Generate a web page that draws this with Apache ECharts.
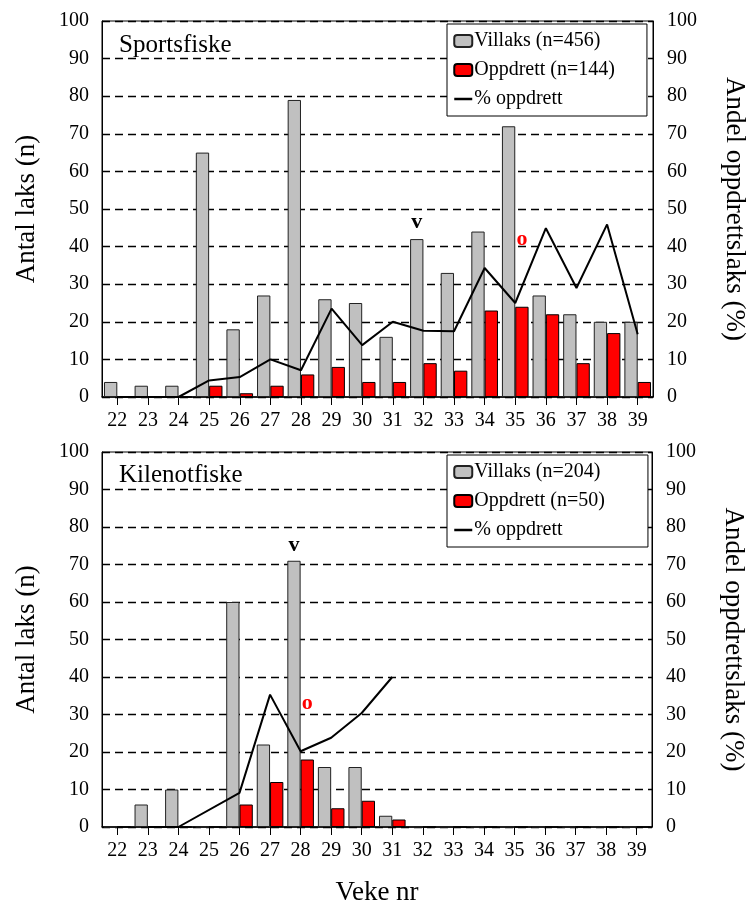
<!DOCTYPE html>
<html>
<head>
<meta charset="utf-8">
<script src="https://cdn.jsdelivr.net/npm/echarts@6/dist/echarts.min.js"></script>
<style>
  html, body { margin: 0; padding: 0; background: #fff; }
  #main { width: 750px; height: 904px; }
</style>
</head>
<body>
<div id="main"></div>
<script>
// veke nr (x-akse)
var weeks = ['22', '23', '24', '25', '26', '27', '28', '29', '30', '31', '32', '33', '34', '35', '36', '37', '38', '39']

// Sportsfiske
var sportVillaks = [4, 3, 3, 65, 18, 27, 79, 26, 25, 16, 42, 33, 44, 72, 27, 22, 20, 20]
var sportOppdrett = [0, 0, 0, 3, 1, 3, 6, 8, 4, 4, 9, 7, 23, 24, 22, 9, 17, 4]
var sportPct = [0, 0, 0, 4.4, 5.3, 10, 7.1, 23.5, 13.8, 20, 17.6, 17.5, 34.3, 25, 44.9, 29, 45.9, 16.7]

// Kilenotfiske
var kileVillaks = [0, 6, 10, 0, 60, 22, 71, 16, 16, 3, 0, 0, 0, 0, 0, 0, 0, 0]
var kileOppdrett = [0, 0, 0, 0, 6, 12, 18, 5, 7, 2, 0, 0, 0, 0, 0, 0, 0, 0]
var kilePct = [null, 0, 0, null, 9.1, 35.3, 20.2, 23.8, 30.4, 40, null, null, null, null, null, null, null, null]

// merker (v / o) over stolpane
var sportMarkV = ['32', 46.5]
var sportMarkO = ['35', 42]
var kileMarkV = ['28', 75]
var kileMarkO = ['28', 33]

var FONT = 'Liberation Serif'
var chart = echarts.init(document.getElementById('main'))

function yLeft(gridIndex) {
  return {
    type: 'value',
    gridIndex: gridIndex,
    min: 0,
    max: 100,
    interval: 10,
    name: 'Antal laks (n)',
    nameLocation: 'middle',
    nameGap: 62,
    nameTextStyle: { fontFamily: FONT, fontSize: 27, color: '#000' },
    axisLine: { show: true, lineStyle: { color: '#000', width: 1 } },
    axisTick: { show: false },
    axisLabel: { fontFamily: FONT, fontSize: 20, color: '#000', margin: 13 },
    splitLine: { show: true, lineStyle: { color: '#000', type: [8, 5], width: 1.3 } }
  }
}
function yRight(gridIndex) {
  return {
    type: 'value',
    gridIndex: gridIndex,
    position: 'right',
    min: 0,
    max: 100,
    interval: 10,
    name: 'Andel oppdrettslaks (%)',
    nameLocation: 'middle',
    nameRotate: -90,
    nameGap: 68,
    nameTextStyle: { fontFamily: FONT, fontSize: 27, color: '#000' },
    axisLine: { show: true, lineStyle: { color: '#000', width: 1 } },
    axisTick: { show: false },
    axisLabel: { fontFamily: FONT, fontSize: 20, color: '#000', margin: 14 },
    splitLine: { show: false }
  }
}
function xAxis(gridIndex, name) {
  return {
    type: 'category',
    gridIndex: gridIndex,
    data: weeks,
    name: name,
    nameLocation: 'middle',
    nameGap: 52,
    nameTextStyle: { fontFamily: FONT, fontSize: 27, color: '#000' },
    axisLine: { lineStyle: { color: '#000', width: 1.5 } },
    axisTick: { show: true, alignWithLabel: true, length: 8, lineStyle: { color: '#000' } },
    axisLabel: { fontFamily: FONT, fontSize: 20, color: '#000', margin: 14, interval: 0 }
  }
}
function mark(coord, txt, color) {
  return {
    symbol: 'circle',
    symbolSize: 0,
    data: [{ coord: coord }],
    label: {
      show: true,
      position: 'inside',
      formatter: txt,
      fontFamily: FONT,
      fontSize: 22,
      fontWeight: 'bold',
      color: color
    }
  }
}
function legend(top, names, padRight) {
  return {
    orient: 'vertical',
    left: 447,
    top: top,
    data: names,
    backgroundColor: '#fff',
    borderColor: '#000',
    borderWidth: 1,
    borderRadius: 0,
    padding: [7, padRight, 7, 6],
    itemGap: 9,
    itemWidth: 18,
    itemHeight: 12,
    selectedMode: false,
    textStyle: { fontFamily: FONT, fontSize: 20, color: '#000', padding: [0, 0, 0, -3] }
  }
}
var lineLegend = { name: '% oppdrett', itemStyle: { opacity: 0 }, lineStyle: { width: 2.5, color: '#000' } }

var greyStyle = { color: '#C0C0C0', borderColor: '#222', borderWidth: 1 }
var redStyle = { color: '#FF0000', borderColor: '#000', borderWidth: 1 }

var option = {
  animation: false,
  title: [
    { text: 'Sportsfiske', left: 114, top: 28, textStyle: { fontFamily: FONT, fontSize: 25, fontWeight: 'normal', color: '#000' } },
    { text: 'Kilenotfiske', left: 114, top: 458, textStyle: { fontFamily: FONT, fontSize: 25, fontWeight: 'normal', color: '#000' } }
  ],
  legend: [
    legend(24, ['Villaks (n=456)', 'Oppdrett (n=144)', lineLegend], 32),
    legend(455, ['Villaks (n=204)', 'Oppdrett (n=50)', lineLegend], 43)
  ],
  grid: [
    { left: 102, top: 21, width: 551, height: 376, outerBoundsMode: 'none', show: true, borderColor: '#000', borderWidth: 1 },
    { left: 102, top: 452, width: 550, height: 375, outerBoundsMode: 'none', show: true, borderColor: '#000', borderWidth: 1 }
  ],
  xAxis: [xAxis(0, ''), xAxis(1, 'Veke nr')],
  yAxis: [yLeft(0), yRight(0), yLeft(1), yRight(1)],
  series: [
    {
      name: 'Villaks (n=456)', type: 'bar', xAxisIndex: 0, yAxisIndex: 0,
      data: sportVillaks, barGap: '0%', barCategoryGap: '13%', itemStyle: greyStyle,
      markPoint: mark(sportMarkV, 'v', '#000')
    },
    {
      name: 'Oppdrett (n=144)', type: 'bar', xAxisIndex: 0, yAxisIndex: 0,
      data: sportOppdrett, barGap: '0%', barCategoryGap: '13%', itemStyle: redStyle,
      markPoint: mark(sportMarkO, 'o', '#FF0000')
    },
    {
      name: '% oppdrett', type: 'line', xAxisIndex: 0, yAxisIndex: 1,
      data: sportPct, symbol: 'none', z: 5,
      lineStyle: { color: '#000', width: 2 }, itemStyle: { color: '#000' }
    },
    {
      name: 'Villaks (n=204)', type: 'bar', xAxisIndex: 1, yAxisIndex: 2,
      data: kileVillaks, barGap: '0%', barCategoryGap: '13%', itemStyle: greyStyle,
      markPoint: mark(kileMarkV, 'v', '#000')
    },
    {
      name: 'Oppdrett (n=50)', type: 'bar', xAxisIndex: 1, yAxisIndex: 2,
      data: kileOppdrett, barGap: '0%', barCategoryGap: '13%', itemStyle: redStyle,
      markPoint: mark(kileMarkO, 'o', '#FF0000')
    },
    {
      name: '% oppdrett', type: 'line', xAxisIndex: 1, yAxisIndex: 3,
      data: kilePct, symbol: 'none', connectNulls: true, z: 5,
      lineStyle: { color: '#000', width: 2 }, itemStyle: { color: '#000' }
    }
  ]
}
option && chart.setOption(option)
</script>
</body>
</html>
